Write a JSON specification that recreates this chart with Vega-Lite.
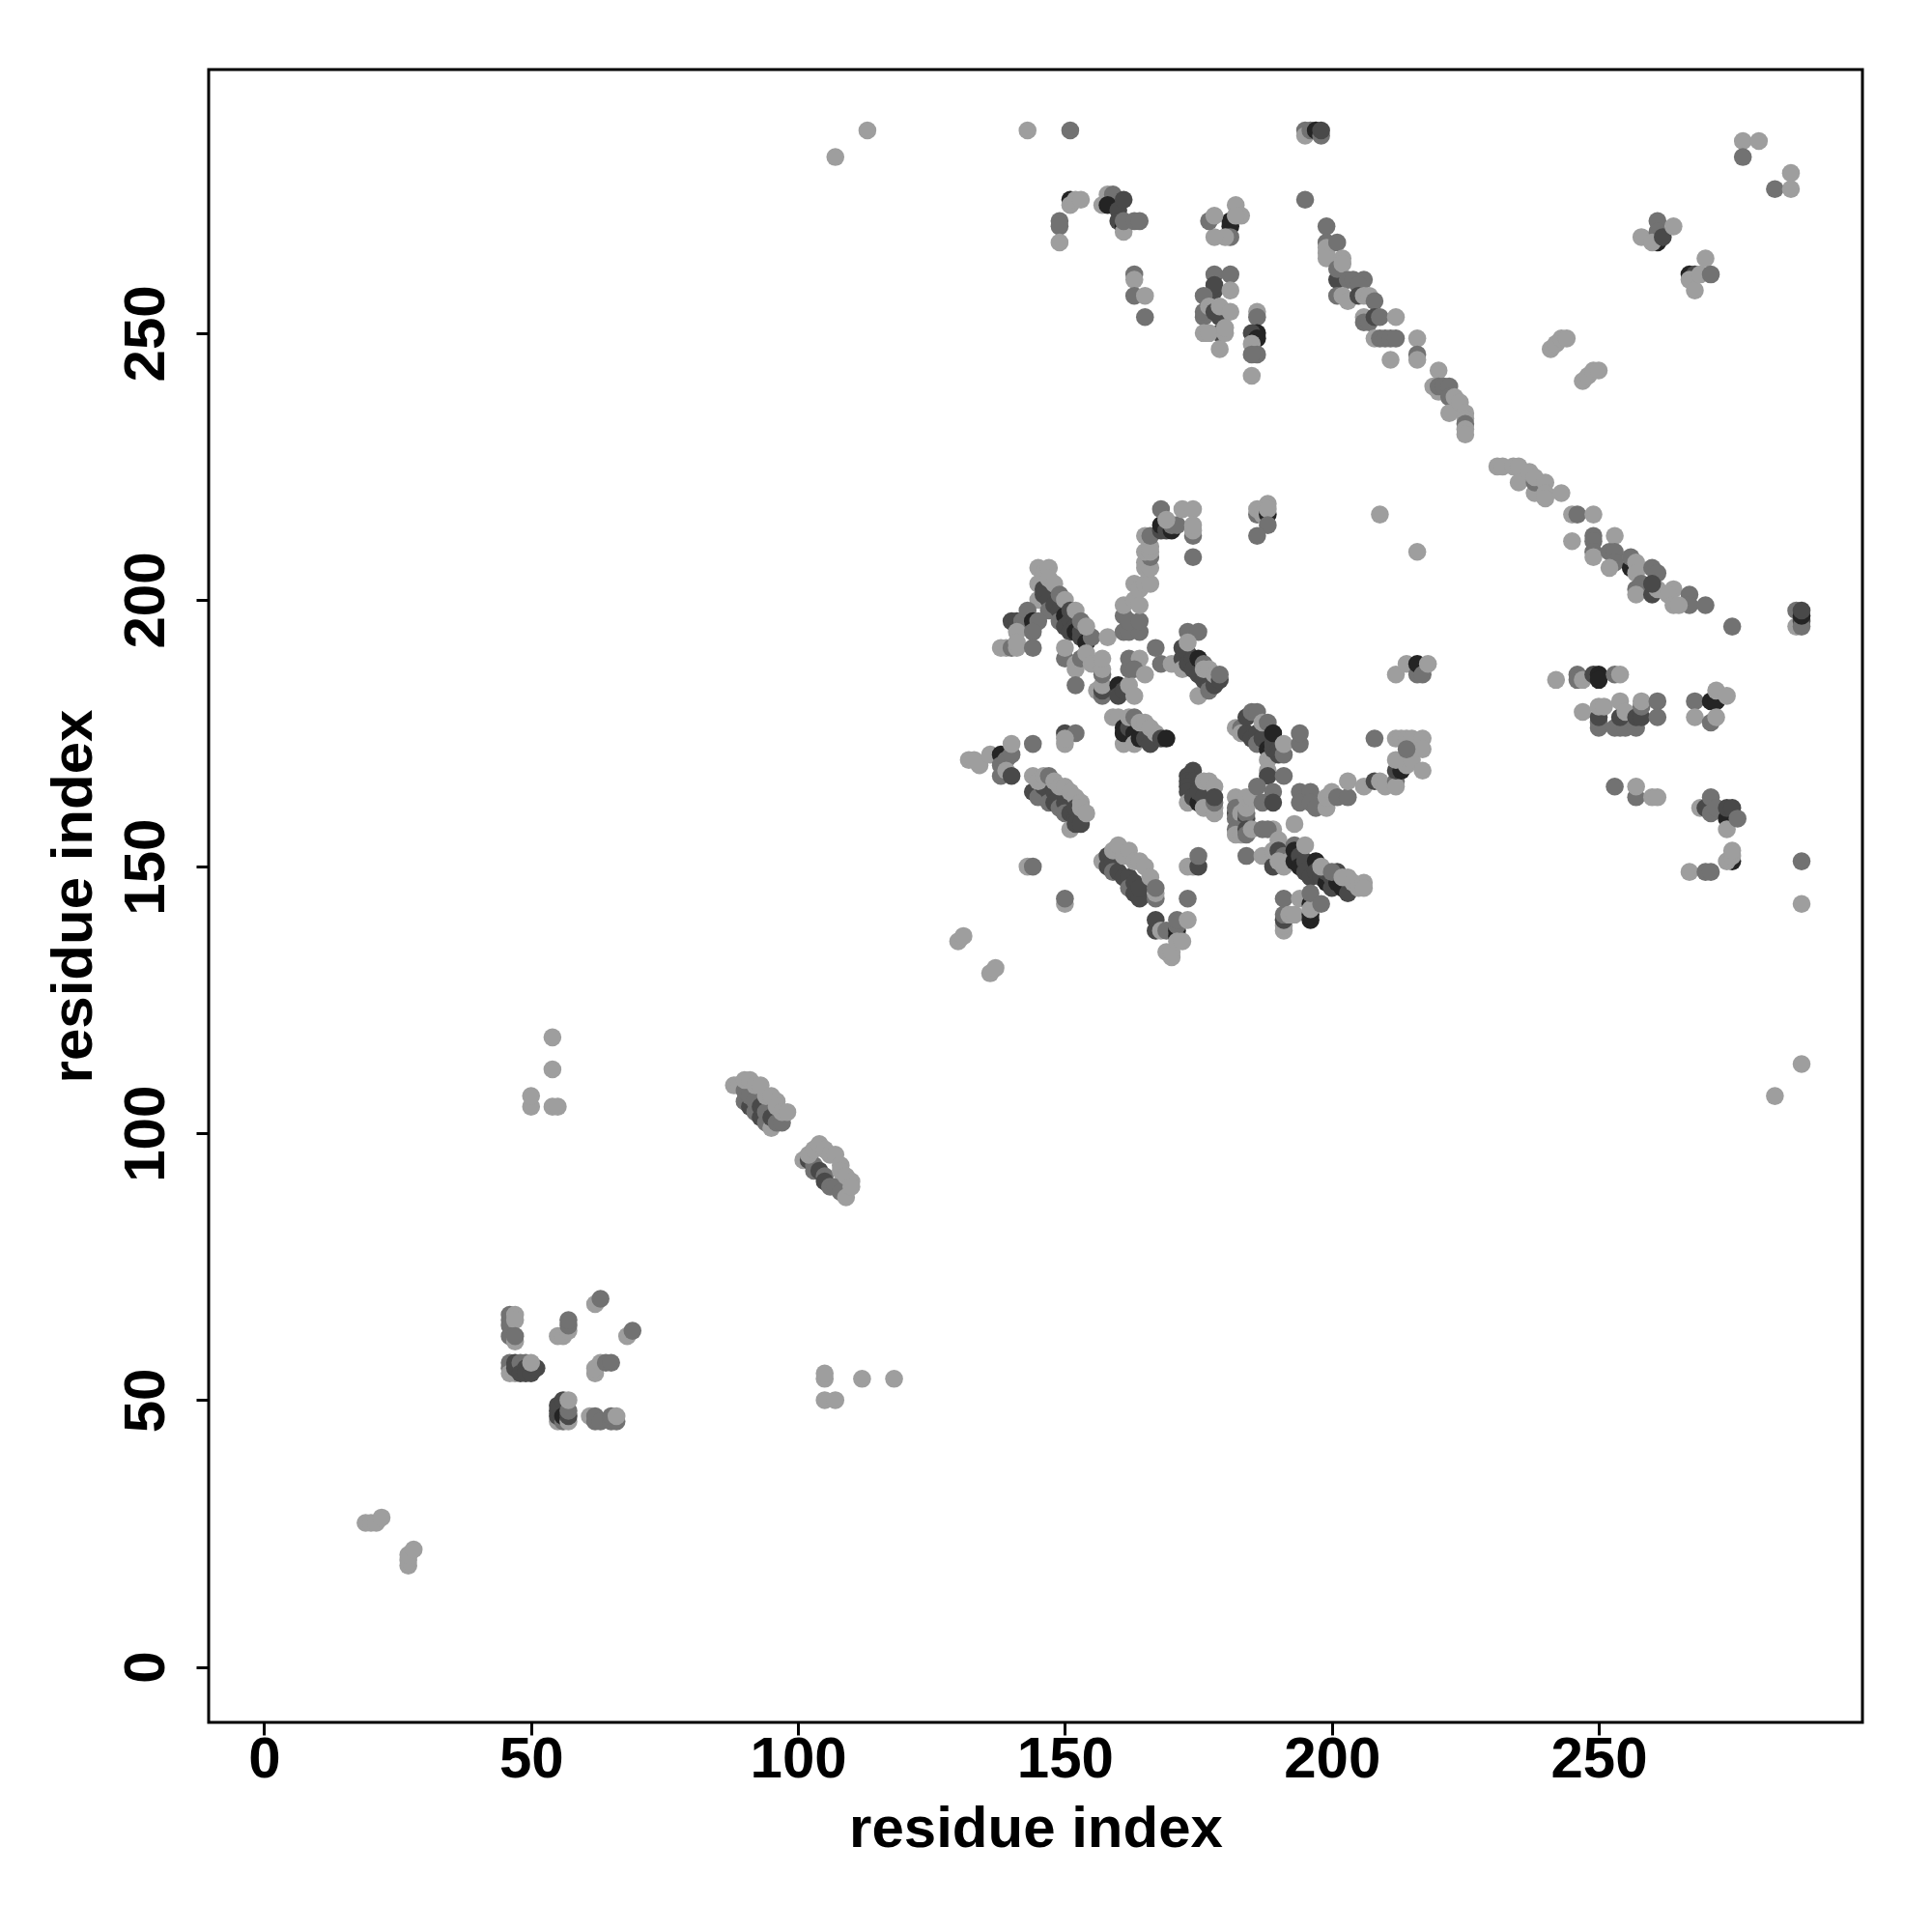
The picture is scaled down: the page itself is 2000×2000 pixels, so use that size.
{"$schema":"https://vega.github.io/schema/vega-lite/v6.json","autosize":{"type":"none"},"padding":{"left":216,"top":72,"right":72,"bottom":217},"width":1712,"height":1711,"background":"white","config":{"view":{"stroke":"black","strokeWidth":3},"font":"Liberation Sans"},"data":{"values":[
{"x":19,"y":27,"s":1},{"x":20,"y":27,"s":1},{"x":21,"y":27,"s":1},{"x":22,"y":28,"s":1},{"x":27,"y":19,"s":1},{"x":27,"y":20,"s":1},{"x":27,"y":21,"s":1},{"x":28,"y":22,"s":1},
{"x":62,"y":68,"s":1},{"x":63,"y":69,"s":2},{"x":55,"y":62,"s":1},{"x":56,"y":62,"s":1},{"x":57,"y":63,"s":1},{"x":57,"y":64,"s":2},{"x":57,"y":65,"s":2},{"x":68,"y":62,"s":1},{"x":69,"y":63,"s":2},
{"x":46,"y":66,"s":2},{"x":46,"y":65,"s":2},{"x":46,"y":64,"s":2},{"x":47,"y":66,"s":1},{"x":47,"y":65,"s":1},{"x":46,"y":62,"s":2},{"x":47,"y":61,"s":1},{"x":47,"y":62,"s":2},
{"x":46,"y":57,"s":2},{"x":46,"y":56,"s":2},{"x":46,"y":55,"s":1},{"x":47,"y":55,"s":1},{"x":47,"y":57,"s":3},{"x":47,"y":56,"s":3},{"x":48,"y":57,"s":2},{"x":48,"y":55,"s":3},{"x":49,"y":57,"s":2},{"x":49,"y":56,"s":3},{"x":49,"y":55,"s":3},{"x":50,"y":55,"s":3},{"x":51,"y":56,"s":3},{"x":50,"y":57,"s":1},
{"x":62,"y":55,"s":1},{"x":62,"y":56,"s":1},{"x":63,"y":57,"s":1},{"x":64,"y":57,"s":2},{"x":65,"y":57,"s":2},
{"x":55,"y":46,"s":1},{"x":55,"y":47,"s":3},{"x":55,"y":48,"s":3},{"x":55,"y":49,"s":3},{"x":56,"y":50,"s":3},{"x":56,"y":46,"s":2},{"x":56,"y":47,"s":4},{"x":57,"y":46,"s":1},{"x":57,"y":47,"s":3},{"x":57,"y":48,"s":2},{"x":57,"y":50,"s":1},
{"x":61,"y":47,"s":1},{"x":62,"y":46,"s":2},{"x":62,"y":47,"s":2},{"x":63,"y":46,"s":2},{"x":65,"y":46,"s":2},{"x":66,"y":46,"s":2},{"x":65,"y":47,"s":2},{"x":66,"y":47,"s":1},
{"x":50,"y":105,"s":1},{"x":50,"y":107,"s":1},{"x":54,"y":105,"s":1},{"x":55,"y":105,"s":1},{"x":54,"y":112,"s":1},{"x":54,"y":118,"s":1},
{"x":105,"y":50,"s":1},{"x":105,"y":54,"s":1},{"x":105,"y":55,"s":1},{"x":107,"y":50,"s":1},{"x":112,"y":54,"s":1},{"x":118,"y":54,"s":1},
{"x":107,"y":283,"s":1},{"x":113,"y":288,"s":1},{"x":143,"y":288,"s":1},{"x":151,"y":288,"s":2},
{"x":90,"y":106,"s":2},{"x":91,"y":105,"s":3},{"x":92,"y":104,"s":2},{"x":93,"y":103,"s":3},{"x":94,"y":102,"s":2},{"x":95,"y":101,"s":1},{"x":88,"y":109,"s":1},{"x":89,"y":109,"s":1},{"x":90,"y":108,"s":2},{"x":91,"y":107,"s":2},{"x":92,"y":106,"s":2},{"x":93,"y":105,"s":3},{"x":94,"y":104,"s":2},{"x":95,"y":103,"s":3},{"x":96,"y":102,"s":2},{"x":97,"y":102,"s":2},{"x":90,"y":110,"s":1},{"x":91,"y":110,"s":1},{"x":92,"y":109,"s":1},{"x":93,"y":109,"s":1},{"x":94,"y":107,"s":1},{"x":95,"y":107,"s":1},{"x":96,"y":106,"s":1},{"x":96,"y":105,"s":1},{"x":97,"y":104,"s":1},{"x":98,"y":104,"s":1},
{"x":101,"y":95,"s":1},{"x":102,"y":95,"s":3},{"x":103,"y":94,"s":2},{"x":103,"y":93,"s":2},{"x":104,"y":93,"s":3},{"x":105,"y":92,"s":2},{"x":105,"y":91,"s":3},{"x":106,"y":90,"s":2},{"x":107,"y":90,"s":2},{"x":108,"y":89,"s":2},{"x":109,"y":88,"s":1},{"x":102,"y":96,"s":1},{"x":103,"y":97,"s":1},{"x":104,"y":98,"s":1},{"x":105,"y":97,"s":1},{"x":106,"y":96,"s":1},{"x":107,"y":96,"s":1},{"x":108,"y":94,"s":1},{"x":108,"y":93,"s":1},{"x":109,"y":92,"s":1},{"x":110,"y":91,"s":1},{"x":110,"y":90,"s":1},
{"x":130,"y":136,"s":1},{"x":131,"y":137,"s":1},{"x":136,"y":130,"s":1},{"x":137,"y":131,"s":1},
{"x":132,"y":170,"s":1},{"x":133,"y":170,"s":1},{"x":134,"y":169,"s":1},{"x":136,"y":171,"s":1},{"x":138,"y":171,"s":4},{"x":138,"y":169,"s":2},{"x":138,"y":167,"s":2},{"x":139,"y":170,"s":2},{"x":140,"y":171,"s":2},{"x":140,"y":173,"s":1},{"x":139,"y":168,"s":1},{"x":140,"y":167,"s":3},{"x":144,"y":173,"s":2},{"x":150,"y":175,"s":3},{"x":152,"y":175,"s":2},{"x":150,"y":173,"s":1},{"x":150,"y":174,"s":1},
{"x":144,"y":164,"s":3},{"x":145,"y":163,"s":2},{"x":146,"y":165,"s":3},{"x":147,"y":164,"s":3},{"x":147,"y":162,"s":2},{"x":148,"y":164,"s":3},{"x":148,"y":162,"s":3},{"x":149,"y":163,"s":3},{"x":149,"y":161,"s":2},{"x":150,"y":162,"s":3},{"x":150,"y":160,"s":2},{"x":151,"y":160,"s":3},{"x":151,"y":157,"s":1},{"x":152,"y":159,"s":3},{"x":152,"y":158,"s":3},{"x":153,"y":158,"s":3},{"x":144,"y":167,"s":1},{"x":145,"y":166,"s":1},{"x":146,"y":167,"s":1},{"x":147,"y":167,"s":2},{"x":148,"y":166,"s":1},{"x":149,"y":165,"s":1},{"x":150,"y":165,"s":1},{"x":151,"y":164,"s":1},{"x":152,"y":163,"s":1},{"x":152,"y":161,"s":3},{"x":153,"y":162,"s":1},{"x":153,"y":161,"s":1},{"x":154,"y":160,"s":1},
{"x":157,"y":151,"s":1},{"x":158,"y":152,"s":3},{"x":158,"y":150,"s":3},{"x":159,"y":151,"s":3},{"x":159,"y":149,"s":2},{"x":160,"y":149,"s":3},{"x":161,"y":148,"s":3},{"x":162,"y":148,"s":3},{"x":162,"y":146,"s":2},{"x":163,"y":147,"s":3},{"x":163,"y":145,"s":3},{"x":164,"y":144,"s":3},{"x":164,"y":146,"s":3},{"x":159,"y":153,"s":1},{"x":160,"y":154,"s":1},{"x":161,"y":152,"s":1},{"x":162,"y":153,"s":1},{"x":163,"y":151,"s":1},{"x":164,"y":151,"s":1},{"x":165,"y":150,"s":1},{"x":166,"y":148,"s":1},{"x":167,"y":144,"s":2},{"x":167,"y":145,"s":1},{"x":167,"y":146,"s":2},
{"x":143,"y":150,"s":1},{"x":144,"y":150,"s":2},{"x":150,"y":143,"s":1},{"x":150,"y":144,"s":2},{"x":173,"y":150,"s":1},{"x":174,"y":150,"s":1},{"x":175,"y":150,"s":3},{"x":175,"y":152,"s":2},{"x":173,"y":144,"s":2},
{"x":167,"y":138,"s":3},{"x":167,"y":140,"s":3},{"x":168,"y":138,"s":1},{"x":169,"y":138,"s":2},{"x":171,"y":137,"s":4},{"x":171,"y":138,"s":4},{"x":171,"y":139,"s":2},{"x":171,"y":140,"s":2},{"x":173,"y":140,"s":1},{"x":169,"y":134,"s":1},{"x":170,"y":133,"s":1},{"x":170,"y":134,"s":1},{"x":171,"y":136,"s":1},{"x":172,"y":136,"s":1},
{"x":145,"y":200,"s":1},{"x":145,"y":203,"s":1},{"x":146,"y":202,"s":3},{"x":146,"y":201,"s":3},{"x":147,"y":200,"s":3},{"x":147,"y":198,"s":2},{"x":148,"y":199,"s":3},{"x":149,"y":198,"s":3},{"x":149,"y":196,"s":2},{"x":150,"y":197,"s":4},{"x":150,"y":195,"s":3},{"x":151,"y":196,"s":3},{"x":151,"y":194,"s":3},{"x":152,"y":195,"s":3},{"x":152,"y":194,"s":4},{"x":153,"y":193,"s":3},{"x":153,"y":194,"s":3},{"x":154,"y":193,"s":3},{"x":154,"y":192,"s":4},{"x":155,"y":193,"s":2},
{"x":145,"y":206,"s":1},{"x":146,"y":205,"s":1},{"x":147,"y":206,"s":1},{"x":147,"y":204,"s":1},{"x":148,"y":203,"s":1},{"x":149,"y":201,"s":2},{"x":150,"y":200,"s":1},{"x":151,"y":198,"s":3},{"x":152,"y":198,"s":1},{"x":153,"y":196,"s":2},{"x":154,"y":195,"s":1},{"x":158,"y":193,"s":1},
{"x":140,"y":196,"s":3},{"x":141,"y":196,"s":3},{"x":142,"y":196,"s":2},{"x":143,"y":198,"s":2},{"x":144,"y":196,"s":4},{"x":145,"y":196,"s":2},{"x":141,"y":194,"s":1},{"x":144,"y":194,"s":2},{"x":138,"y":191,"s":1},{"x":139,"y":191,"s":1},{"x":140,"y":191,"s":2},{"x":141,"y":191,"s":1},{"x":141,"y":192,"s":1},{"x":144,"y":191,"s":2},
{"x":150,"y":189,"s":2},{"x":150,"y":191,"s":1},{"x":152,"y":188,"s":1},{"x":152,"y":187,"s":1},{"x":152,"y":184,"s":2},{"x":153,"y":189,"s":2},{"x":154,"y":190,"s":1},{"x":155,"y":188,"s":1},{"x":156,"y":183,"s":1},{"x":157,"y":182,"s":2},{"x":157,"y":183,"s":3},{"x":157,"y":184,"s":1},{"x":157,"y":186,"s":2},{"x":157,"y":187,"s":1},{"x":157,"y":189,"s":1},
{"x":160,"y":184,"s":4},{"x":160,"y":182,"s":3},{"x":161,"y":183,"s":3},{"x":162,"y":184,"s":1},{"x":163,"y":182,"s":1},{"x":162,"y":189,"s":2},{"x":164,"y":189,"s":1},{"x":162,"y":187,"s":2},{"x":163,"y":187,"s":2},{"x":165,"y":186,"s":1},{"x":167,"y":191,"s":2},{"x":168,"y":188,"s":2},{"x":170,"y":188,"s":1},
{"x":161,"y":194,"s":2},{"x":162,"y":194,"s":2},{"x":164,"y":194,"s":2},{"x":161,"y":197,"s":2},{"x":162,"y":196,"s":2},{"x":164,"y":196,"s":2},{"x":161,"y":199,"s":1},{"x":163,"y":200,"s":1},{"x":164,"y":199,"s":1},{"x":163,"y":203,"s":1},{"x":164,"y":202,"s":1},{"x":165,"y":203,"s":1},{"x":166,"y":203,"s":1},
{"x":165,"y":206,"s":1},{"x":166,"y":206,"s":1},{"x":165,"y":207,"s":1},{"x":166,"y":208,"s":2},{"x":165,"y":209,"s":1},{"x":166,"y":209,"s":1},{"x":166,"y":210,"s":1},{"x":165,"y":212,"s":1},{"x":166,"y":212,"s":2},
{"x":168,"y":213,"s":3},{"x":168,"y":214,"s":4},{"x":169,"y":213,"s":3},{"x":170,"y":213,"s":4},{"x":170,"y":214,"s":2},{"x":171,"y":214,"s":2},{"x":168,"y":217,"s":2},{"x":169,"y":215,"s":1},{"x":172,"y":217,"s":1},{"x":174,"y":217,"s":1},{"x":174,"y":212,"s":2},{"x":174,"y":213,"s":1},{"x":174,"y":214,"s":1},{"x":174,"y":208,"s":2},
{"x":186,"y":216,"s":2},{"x":186,"y":217,"s":1},{"x":187,"y":216,"s":1},{"x":188,"y":216,"s":4},{"x":188,"y":218,"s":1},{"x":188,"y":217,"s":1},{"x":188,"y":214,"s":2},{"x":186,"y":212,"s":2},{"x":209,"y":216,"s":1},{"x":216,"y":209,"s":1},
{"x":172,"y":191,"s":3},{"x":172,"y":189,"s":3},{"x":172,"y":187,"s":1},{"x":173,"y":190,"s":3},{"x":173,"y":188,"s":3},{"x":174,"y":189,"s":3},{"x":174,"y":187,"s":3},{"x":175,"y":189,"s":4},{"x":175,"y":186,"s":3},{"x":175,"y":182,"s":1},{"x":176,"y":188,"s":2},{"x":176,"y":185,"s":3},{"x":177,"y":184,"s":3},{"x":177,"y":183,"s":2},{"x":178,"y":184,"s":3},{"x":173,"y":194,"s":2},{"x":175,"y":194,"s":2},{"x":173,"y":192,"s":1},{"x":176,"y":187,"s":1},{"x":177,"y":187,"s":1},{"x":178,"y":186,"s":1},{"x":179,"y":185,"s":3},{"x":179,"y":186,"s":2},
{"x":159,"y":178,"s":1},{"x":160,"y":178,"s":1},{"x":161,"y":173,"s":1},{"x":161,"y":176,"s":4},{"x":161,"y":175,"s":4},{"x":162,"y":176,"s":3},{"x":163,"y":175,"s":4},{"x":163,"y":173,"s":1},{"x":164,"y":174,"s":4},{"x":165,"y":174,"s":3},{"x":166,"y":173,"s":3},{"x":162,"y":178,"s":1},{"x":163,"y":178,"s":2},{"x":164,"y":177,"s":1},{"x":165,"y":177,"s":1},{"x":166,"y":176,"s":1},{"x":167,"y":175,"s":1},{"x":168,"y":174,"s":3},{"x":169,"y":174,"s":4},
{"x":182,"y":176,"s":1},{"x":183,"y":176,"s":2},{"x":183,"y":175,"s":1},{"x":184,"y":175,"s":3},{"x":184,"y":178,"s":3},{"x":185,"y":174,"s":3},{"x":186,"y":175,"s":3},{"x":186,"y":173,"s":2},{"x":187,"y":174,"s":3},{"x":188,"y":172,"s":4},{"x":188,"y":170,"s":1},{"x":189,"y":172,"s":3},{"x":189,"y":173,"s":3},{"x":190,"y":172,"s":3},{"x":190,"y":171,"s":3},{"x":185,"y":179,"s":2},{"x":186,"y":179,"s":2},{"x":187,"y":177,"s":1},{"x":188,"y":177,"s":2},{"x":189,"y":175,"s":4},{"x":191,"y":171,"s":2},{"x":191,"y":173,"s":1},{"x":194,"y":173,"s":2},{"x":194,"y":175,"s":2},{"x":188,"y":168,"s":1},{"x":188,"y":167,"s":3},{"x":191,"y":167,"s":2},
{"x":174,"y":168,"s":3},{"x":173,"y":167,"s":3},{"x":173,"y":166,"s":3},{"x":174,"y":166,"s":3},{"x":173,"y":165,"s":3},{"x":173,"y":164,"s":3},{"x":173,"y":162,"s":1},{"x":174,"y":163,"s":3},{"x":175,"y":162,"s":4},{"x":175,"y":164,"s":3},{"x":176,"y":163,"s":3},{"x":176,"y":161,"s":1},{"x":176,"y":166,"s":1},{"x":177,"y":166,"s":1},{"x":178,"y":165,"s":1},{"x":178,"y":160,"s":1},{"x":178,"y":161,"s":1},{"x":178,"y":162,"s":2},{"x":178,"y":163,"s":3},
{"x":182,"y":160,"s":3},{"x":182,"y":159,"s":2},{"x":182,"y":163,"s":1},{"x":182,"y":161,"s":2},{"x":183,"y":160,"s":1},{"x":184,"y":159,"s":3},{"x":184,"y":160,"s":2},{"x":184,"y":161,"s":1},{"x":184,"y":163,"s":1},{"x":185,"y":163,"s":1},{"x":186,"y":165,"s":2},{"x":187,"y":162,"s":2},{"x":189,"y":164,"s":2},{"x":189,"y":162,"s":3},
{"x":182,"y":157,"s":2},{"x":182,"y":156,"s":1},{"x":183,"y":156,"s":1},{"x":184,"y":157,"s":3},{"x":184,"y":156,"s":2},{"x":185,"y":157,"s":1},{"x":187,"y":157,"s":2},{"x":189,"y":157,"s":1},{"x":188,"y":157,"s":2},{"x":193,"y":158,"s":1},
{"x":184,"y":152,"s":2},{"x":187,"y":152,"s":1},{"x":189,"y":150,"s":3},{"x":189,"y":153,"s":1},{"x":190,"y":155,"s":1},{"x":190,"y":153,"s":3},{"x":191,"y":152,"s":2},{"x":190,"y":151,"s":1},{"x":191,"y":150,"s":1},{"x":192,"y":151,"s":1},
{"x":193,"y":154,"s":2},{"x":193,"y":153,"s":4},{"x":193,"y":151,"s":4},{"x":194,"y":152,"s":3},{"x":194,"y":150,"s":4},{"x":195,"y":151,"s":3},{"x":195,"y":149,"s":3},{"x":196,"y":148,"s":3},{"x":197,"y":151,"s":4},{"x":197,"y":149,"s":3},{"x":198,"y":148,"s":3},{"x":199,"y":147,"s":4},{"x":199,"y":149,"s":3},{"x":200,"y":148,"s":3},{"x":200,"y":146,"s":3},{"x":201,"y":149,"s":3},{"x":201,"y":147,"s":4},{"x":202,"y":146,"s":4},{"x":203,"y":145,"s":3},{"x":195,"y":154,"s":1},{"x":198,"y":150,"s":1},{"x":200,"y":149,"s":2},{"x":202,"y":148,"s":1},{"x":203,"y":148,"s":1},{"x":204,"y":147,"s":1},{"x":205,"y":146,"s":1},{"x":206,"y":147,"s":1},{"x":206,"y":146,"s":1},
{"x":191,"y":144,"s":2},{"x":191,"y":138,"s":1},{"x":191,"y":139,"s":1},{"x":191,"y":140,"s":3},{"x":191,"y":141,"s":2},{"x":192,"y":141,"s":1},{"x":193,"y":141,"s":1},{"x":194,"y":144,"s":1},{"x":196,"y":143,"s":4},{"x":196,"y":140,"s":4},{"x":196,"y":141,"s":4},{"x":196,"y":142,"s":1},{"x":196,"y":145,"s":2},{"x":198,"y":143,"s":2},
{"x":194,"y":164,"s":2},{"x":195,"y":163,"s":2},{"x":196,"y":164,"s":2},{"x":194,"y":162,"s":2},{"x":196,"y":162,"s":2},{"x":197,"y":161,"s":2},{"x":199,"y":161,"s":1},{"x":199,"y":163,"s":1},{"x":200,"y":164,"s":1},{"x":201,"y":163,"s":2},{"x":203,"y":163,"s":2},{"x":203,"y":166,"s":1},{"x":206,"y":165,"s":1},{"x":208,"y":166,"s":3},{"x":209,"y":166,"s":1},{"x":210,"y":165,"s":1},{"x":212,"y":166,"s":2},{"x":212,"y":165,"s":1},
{"x":212,"y":168,"s":3},{"x":213,"y":168,"s":4},{"x":214,"y":169,"s":1},{"x":212,"y":170,"s":1},{"x":215,"y":170,"s":1},{"x":208,"y":174,"s":2},{"x":212,"y":174,"s":1},{"x":213,"y":174,"s":1},{"x":214,"y":174,"s":1},{"x":215,"y":174,"s":1},{"x":217,"y":174,"s":1},{"x":217,"y":172,"s":1},{"x":214,"y":172,"s":2},{"x":217,"y":168,"s":1},
{"x":212,"y":186,"s":1},{"x":214,"y":188,"s":1},{"x":216,"y":186,"s":2},{"x":216,"y":188,"s":4},{"x":217,"y":186,"s":2},{"x":218,"y":188,"s":1},
{"x":195,"y":288,"s":2},{"x":195,"y":287,"s":1},{"x":196,"y":288,"s":2},{"x":197,"y":288,"s":4},{"x":198,"y":287,"s":2},{"x":198,"y":288,"s":3},{"x":195,"y":275,"s":2},
{"x":151,"y":275,"s":4},{"x":151,"y":274,"s":1},{"x":152,"y":275,"s":1},{"x":153,"y":275,"s":1},{"x":149,"y":271,"s":2},{"x":149,"y":270,"s":2},{"x":149,"y":267,"s":1},
{"x":158,"y":276,"s":1},{"x":159,"y":276,"s":2},{"x":157,"y":274,"s":1},{"x":158,"y":274,"s":4},{"x":160,"y":273,"s":3},{"x":160,"y":271,"s":3},{"x":161,"y":275,"s":3},{"x":161,"y":270,"s":4},{"x":161,"y":269,"s":1},{"x":161,"y":271,"s":2},{"x":163,"y":271,"s":2},{"x":164,"y":271,"s":2},
{"x":163,"y":261,"s":2},{"x":163,"y":260,"s":1},{"x":163,"y":257,"s":2},{"x":165,"y":257,"s":1},{"x":165,"y":253,"s":2},
{"x":181,"y":271,"s":4},{"x":181,"y":270,"s":4},{"x":181,"y":268,"s":2},{"x":180,"y":268,"s":1},{"x":178,"y":268,"s":1},{"x":177,"y":271,"s":2},{"x":178,"y":272,"s":1},{"x":182,"y":274,"s":1},{"x":183,"y":272,"s":1},{"x":182,"y":272,"s":1},
{"x":178,"y":261,"s":2},{"x":181,"y":261,"s":2},{"x":178,"y":258,"s":3},{"x":178,"y":259,"s":3},{"x":176,"y":257,"s":2},{"x":181,"y":258,"s":1},{"x":176,"y":253,"s":2},{"x":176,"y":254,"s":2},{"x":177,"y":255,"s":1},{"x":178,"y":254,"s":3},{"x":179,"y":253,"s":3},{"x":179,"y":255,"s":1},{"x":181,"y":254,"s":1},{"x":179,"y":250,"s":3},{"x":176,"y":250,"s":1},{"x":177,"y":250,"s":1},{"x":180,"y":250,"s":1},{"x":180,"y":251,"s":1},{"x":179,"y":247,"s":1},
{"x":186,"y":254,"s":1},{"x":186,"y":253,"s":2},{"x":186,"y":250,"s":4},{"x":185,"y":250,"s":3},{"x":186,"y":249,"s":4},{"x":185,"y":248,"s":1},{"x":186,"y":246,"s":2},{"x":185,"y":246,"s":2},{"x":185,"y":242,"s":1},
{"x":199,"y":270,"s":2},{"x":199,"y":267,"s":2},{"x":199,"y":266,"s":1},{"x":199,"y":265,"s":1},{"x":201,"y":267,"s":2},{"x":199,"y":264,"s":1},{"x":201,"y":260,"s":3},{"x":201,"y":262,"s":2},{"x":202,"y":264,"s":1},{"x":202,"y":263,"s":1},{"x":203,"y":260,"s":2},{"x":204,"y":260,"s":2},{"x":206,"y":260,"s":2},{"x":205,"y":259,"s":2},{"x":201,"y":257,"s":2},{"x":202,"y":257,"s":1},{"x":203,"y":256,"s":1},{"x":205,"y":257,"s":3},{"x":206,"y":257,"s":1},{"x":207,"y":257,"s":1},{"x":208,"y":256,"s":2},{"x":206,"y":253,"s":1},{"x":206,"y":252,"s":2},{"x":207,"y":252,"s":2},{"x":208,"y":253,"s":3},{"x":209,"y":253,"s":2},{"x":208,"y":249,"s":1},{"x":209,"y":249,"s":2},{"x":210,"y":249,"s":2},{"x":211,"y":249,"s":2},{"x":212,"y":249,"s":2},{"x":212,"y":253,"s":1},{"x":211,"y":245,"s":1},
{"x":216,"y":249,"s":1},{"x":216,"y":246,"s":2},{"x":216,"y":245,"s":1},{"x":220,"y":243,"s":1},{"x":219,"y":240,"s":1},{"x":220,"y":239,"s":1},{"x":220,"y":240,"s":2},{"x":221,"y":240,"s":2},{"x":222,"y":240,"s":2},{"x":222,"y":238,"s":2},{"x":223,"y":238,"s":1},{"x":222,"y":235,"s":1},{"x":224,"y":237,"s":1},{"x":225,"y":235,"s":1},{"x":225,"y":234,"s":1},{"x":225,"y":233,"s":2},{"x":225,"y":232,"s":1},{"x":225,"y":231,"s":1},
{"x":231,"y":225,"s":1},{"x":232,"y":225,"s":1},{"x":234,"y":225,"s":1},{"x":235,"y":225,"s":1},{"x":235,"y":222,"s":1},{"x":237,"y":224,"s":1},{"x":238,"y":220,"s":1},{"x":238,"y":222,"s":2},{"x":238,"y":223,"s":1},{"x":240,"y":222,"s":1},{"x":240,"y":220,"s":1},{"x":240,"y":219,"s":1},{"x":243,"y":220,"s":1},{"x":245,"y":216,"s":1},{"x":246,"y":216,"s":2},{"x":249,"y":216,"s":1},{"x":245,"y":211,"s":1},
{"x":249,"y":212,"s":2},{"x":249,"y":211,"s":2},{"x":249,"y":209,"s":2},{"x":249,"y":208,"s":1},{"x":253,"y":212,"s":1},{"x":252,"y":209,"s":2},{"x":253,"y":209,"s":2},{"x":253,"y":207,"s":2},{"x":252,"y":206,"s":1},{"x":256,"y":206,"s":4},{"x":256,"y":208,"s":2},{"x":257,"y":207,"s":1},{"x":257,"y":205,"s":1},{"x":257,"y":202,"s":2},{"x":258,"y":203,"s":2},{"x":257,"y":201,"s":1},{"x":260,"y":201,"s":3},{"x":260,"y":206,"s":2},{"x":261,"y":205,"s":2},{"x":261,"y":202,"s":1},{"x":260,"y":203,"s":3},{"x":264,"y":202,"s":1},{"x":263,"y":201,"s":1},{"x":267,"y":201,"s":2},{"x":267,"y":199,"s":2},{"x":264,"y":199,"s":1},{"x":265,"y":199,"s":1},{"x":270,"y":199,"s":2},{"x":275,"y":195,"s":2},
{"x":241,"y":247,"s":1},{"x":242,"y":248,"s":1},{"x":243,"y":249,"s":1},{"x":244,"y":249,"s":1},{"x":247,"y":241,"s":1},{"x":248,"y":242,"s":1},{"x":249,"y":243,"s":1},{"x":250,"y":243,"s":1},
{"x":258,"y":268,"s":1},{"x":261,"y":271,"s":2},{"x":261,"y":269,"s":2},{"x":261,"y":267,"s":4},{"x":260,"y":267,"s":1},{"x":262,"y":268,"s":3},{"x":264,"y":270,"s":1},
{"x":267,"y":261,"s":4},{"x":268,"y":261,"s":3},{"x":267,"y":260,"s":1},{"x":268,"y":258,"s":1},{"x":269,"y":261,"s":1},{"x":270,"y":264,"s":1},{"x":271,"y":261,"s":2},
{"x":277,"y":286,"s":1},{"x":280,"y":286,"s":1},{"x":277,"y":283,"s":2},{"x":286,"y":280,"s":1},{"x":283,"y":277,"s":2},{"x":286,"y":277,"s":1},
{"x":287,"y":198,"s":2},{"x":287,"y":195,"s":1},{"x":288,"y":196,"s":3},{"x":288,"y":195,"s":2},{"x":288,"y":197,"s":4},{"x":288,"y":198,"s":3},
{"x":242,"y":185,"s":1},{"x":246,"y":186,"s":2},{"x":246,"y":185,"s":2},{"x":247,"y":185,"s":1},{"x":249,"y":186,"s":3},{"x":250,"y":186,"s":4},{"x":250,"y":185,"s":4},{"x":253,"y":186,"s":2},{"x":254,"y":186,"s":1},
{"x":247,"y":179,"s":1},{"x":250,"y":177,"s":2},{"x":250,"y":176,"s":2},{"x":250,"y":178,"s":3},{"x":250,"y":180,"s":1},{"x":251,"y":180,"s":1},{"x":254,"y":177,"s":3},{"x":254,"y":176,"s":2},{"x":253,"y":176,"s":2},{"x":255,"y":176,"s":2},{"x":254,"y":178,"s":3},{"x":254,"y":181,"s":1},{"x":255,"y":179,"s":1},{"x":257,"y":176,"s":2},{"x":257,"y":178,"s":3},{"x":258,"y":178,"s":3},{"x":258,"y":180,"s":2},{"x":258,"y":181,"s":1},{"x":261,"y":181,"s":2},{"x":261,"y":178,"s":2},
{"x":268,"y":181,"s":2},{"x":268,"y":178,"s":1},{"x":271,"y":181,"s":4},{"x":272,"y":181,"s":4},{"x":271,"y":177,"s":2},{"x":272,"y":178,"s":1},{"x":272,"y":183,"s":1},{"x":274,"y":182,"s":1},
{"x":253,"y":165,"s":2},{"x":257,"y":163,"s":2},{"x":257,"y":165,"s":1},{"x":260,"y":163,"s":1},{"x":261,"y":163,"s":1},
{"x":269,"y":161,"s":1},{"x":270,"y":161,"s":3},{"x":271,"y":160,"s":2},{"x":271,"y":163,"s":2},{"x":272,"y":161,"s":2},{"x":274,"y":159,"s":4},{"x":274,"y":157,"s":1},{"x":274,"y":161,"s":3},{"x":275,"y":161,"s":3},{"x":276,"y":159,"s":2},
{"x":275,"y":151,"s":4},{"x":274,"y":151,"s":1},{"x":275,"y":152,"s":1},{"x":275,"y":153,"s":1},{"x":267,"y":149,"s":1},{"x":270,"y":149,"s":2},{"x":271,"y":149,"s":2},{"x":288,"y":151,"s":2},{"x":288,"y":143,"s":1},{"x":288,"y":113,"s":1},{"x":283,"y":107,"s":1}
]},
"mark":{"type":"circle","opacity":1,"size":345},
"encoding":{
"x":{"field":"x","type":"quantitative","scale":{"domain":[-10.4,299.4],"nice":false,"zero":false},"axis":{"values":[0,50,100,150,200,250],"grid":false,"domain":false,"tickColor":"black","tickWidth":3,"tickSize":13,"labelFont":"Liberation Sans","labelFontWeight":"bold","labelFontSize":60,"labelColor":"black","labelPadding":-4,"title":"residue index","titleFont":"Liberation Sans","titleFontWeight":"bold","titleFontSize":60,"titleColor":"black","titlePadding":13}},
"y":{"field":"y","type":"quantitative","scale":{"domain":[-10.4,299.4],"nice":false,"zero":false},"axis":{"values":[0,50,100,150,200,250],"grid":false,"domain":false,"tickColor":"black","tickWidth":3,"tickSize":13,"labelFont":"Liberation Sans","labelFontWeight":"bold","labelFontSize":60,"labelColor":"black","labelAngle":-90,"labelAlign":"center","labelBaseline":"bottom","labelPadding":21,"title":"residue index","titleFont":"Liberation Sans","titleFontWeight":"bold","titleFontSize":60,"titleColor":"black","titlePadding":14}},
"color":{"field":"s","type":"quantitative","scale":{"domain":[1,4],"range":["#9e9e9e","#242424"]},"legend":null}
}}
